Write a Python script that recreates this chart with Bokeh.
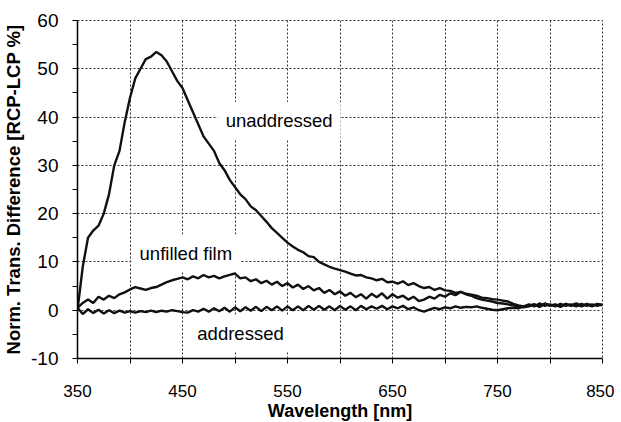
from bokeh.plotting import figure
from bokeh.models import FixedTicker, Label
from bokeh.embed import file_html
from bokeh.resources import INLINE

wavelength = list(range(350, 855, 5))

unaddressed = [0, 9, 15, 16.5, 17.5, 20, 24, 30, 33, 39,
               44, 48, 50, 52, 52.5, 53.5, 52.8, 51.5, 49.5, 47.5,
               46, 43.5, 41, 38.5, 36, 34.5, 33, 30.5, 29, 27,
               25.5, 24, 23, 21.5, 20.7, 19.5, 18.3, 17, 16, 15,
               14, 13.2, 12.5, 12, 11.2, 11, 10, 9.5, 9, 8.6,
               8.3, 8, 7.6, 7.2, 7.3, 6.8, 6.6, 6.2, 6.5, 5.8,
               5.9, 5.5, 6, 5.2, 5.6, 5, 4.6, 4.8, 4.2, 4.6,
               4.1, 4, 3.6, 3.8, 3.4, 3.2, 3.0, 2.6, 2.5, 2.3,
               2.2, 2.0, 1.8, 1.3, 1.0, 0.8, 1.0, 1.2, 0.8, 1.4,
               1.0, 1.2, 0.8, 1.3, 1.0, 1.4, 0.9, 1.2, 0.8, 1.3,
               1.1]

unfilled_film = [0.5, 1.5, 2.2, 1.5, 2.8, 2.2, 3.0, 2.5, 3.3, 3.7,
                 4.3, 4.8, 4.5, 4.2, 4.6, 4.8, 5.3, 5.8, 6.2, 6.5,
                 6.8, 6.4, 7.0, 6.6, 7.3, 6.8, 7.1, 6.6, 7.0, 7.3,
                 7.6, 6.6, 6.8, 6.0, 6.4, 5.6, 6.1, 5.3, 5.9, 5.0,
                 5.6, 4.7, 5.3, 4.4, 5.0, 4.1, 4.6, 3.6, 4.2, 3.3,
                 3.9, 3.0, 3.6, 2.7, 3.3, 2.4, 3.4, 2.7, 3.5, 2.4,
                 3.3, 2.6, 3.0, 2.2, 2.8, 1.9, 2.2, 2.8, 2.4, 3.2,
                 2.8, 3.5, 3.1, 3.8, 3.3, 3.0, 2.5, 2.2, 2.0, 1.8,
                 1.5, 1.4, 1.2, 1.0, 0.8, 0.6, 0.8, 1.2, 0.7, 1.3,
                 0.9, 1.1, 0.7, 1.3, 0.9, 1.2, 0.8, 1.3, 1.0, 1.2,
                 1.0]

addressed = [0.5, -0.8, 0.2, -0.6, 0.1, -0.7, 0.0, -0.6, -0.1, -0.5,
             -0.2, -0.5, -0.2, -0.4, -0.1, -0.4, -0.1, -0.3, 0.0, -0.2,
             -0.4, -0.5, 0.0, -0.3, 0.3, -0.3, 0.4, -0.2, 0.5, -0.3,
             0.6, -0.2, 0.6, -0.1, 0.7, -0.2, 0.7, 0.0, 0.8, -0.1,
             0.8, 0.0, 0.8, 0.0, 0.9, 0.1, 0.9, 0.1, 0.8, 0.0,
             0.9, 0.1, 0.8, 0.0, 0.9, 0.2, 0.8, 0.3, 0.9, 0.2,
             0.8, 0.4, 0.9, 0.2, 0.6, 0.0, -0.3, 0.1, 0.5, 0.2,
             0.6, 0.4, 0.8, 0.5, 0.7, 0.6, 0.8, 0.5, 0.3, 0.1,
             0.0, 0.2, 0.4, 0.5, 0.4, 0.8, 1.2, 0.8, 1.4, 0.9,
             1.2, 0.8, 1.3, 0.9, 1.2, 0.8, 1.3, 0.9, 1.2, 0.9,
             1.2]

x_major = [350, 450, 550, 650, 750, 850]
x_minor = [400, 500, 600, 700, 800]
y_major = [-10, 0, 10, 20, 30, 40, 50, 60]
y_minor = [-5, 5, 15, 25, 35, 45, 55]

labels = [("unaddressed", 483.5, 39.3), ("unfilled film", 401.5, 11.8), ("addressed", 456.5, -4.8)]

FONT = "Liberation Sans"

p = figure(frame_width=525, frame_height=338, x_range=(350, 850), y_range=(-10, 60),
           output_backend="svg", toolbar_location=None,
           min_border_left=75, min_border_top=20, min_border_right=12, min_border_bottom=0)
p.background_fill_color = "white"
p.border_fill_color = "white"
p.outline_line_color = "#333333"
p.outline_line_dash = "2 2"
p.outline_line_width = 1

for series in (unaddressed, unfilled_film, addressed):
    p.line(wavelength, series, line_color="#111111", line_width=2.4)

p.xaxis.ticker = FixedTicker(ticks=x_major, minor_ticks=x_minor)
p.yaxis.ticker = FixedTicker(ticks=y_major, minor_ticks=y_minor)
p.yaxis.major_label_overrides = {v: str(v) for v in y_major}

for g in (p.xgrid, p.ygrid):
    g.grid_line_color = "#333333"
    g.grid_line_dash = "2 2"
    g.grid_line_width = 1
p.xgrid.minor_grid_line_color = "#333333"
p.xgrid.minor_grid_line_dash = "2 2"
p.xgrid.minor_grid_line_width = 1

for ax in (p.xaxis, p.yaxis):
    ax.axis_line_color = "black"
    ax.axis_line_width = 1.5
    ax.major_tick_line_color = "black"
    ax.minor_tick_line_color = "black"
    ax.major_tick_in = 0
    ax.minor_tick_in = 0
    ax.major_tick_out = 5
    ax.minor_tick_out = 5
    ax.major_label_text_font = FONT
    ax.major_label_text_color = "black"
    ax.axis_label_text_font = FONT
    ax.axis_label_text_font_style = "bold"
    ax.axis_label_text_color = "black"

p.xaxis.major_label_text_font_size = "17px"
p.yaxis.major_label_text_font_size = "19px"
p.xaxis.major_label_standoff = 21
p.yaxis.major_label_standoff = 14
p.xaxis.axis_label = "Wavelength [nm]"
p.yaxis.axis_label = "Norm. Trans. Difference [RCP-LCP %]"
p.xaxis.axis_label_text_font_size = "18px"
p.yaxis.axis_label_text_font_size = "18.5px"
p.xaxis.axis_label_standoff = 1
p.yaxis.axis_label_standoff = 4

for txt, lx, ly in labels:
    p.add_layout(Label(x=lx, y=ly, text=txt, text_font=FONT, text_font_size="18.5px",
                       text_color="black", text_baseline="middle", text_align="left",
                       background_fill_color="white", padding=8))

open("out.html", "w").write(file_html(p, INLINE))
